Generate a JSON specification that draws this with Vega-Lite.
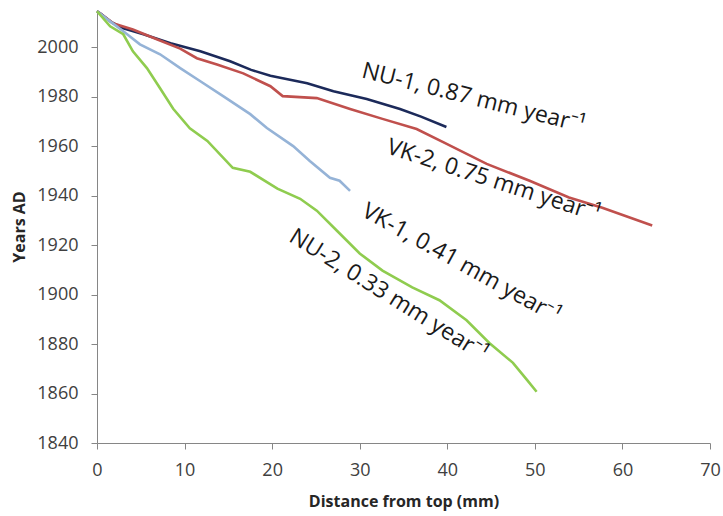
{
  "$schema": "https://vega.github.io/schema/vega-lite/v6.json",
  "autosize": "none",
  "width": 613,
  "height": 433,
  "padding": {"left": 97, "top": 10, "right": 13, "bottom": 73},
  "background": "white",
  "config": {
    "view": {"stroke": null},
    "font": "Open Sans",
    "axis": {"grid": false, "domainColor": "#868686", "tickColor": "#868686", "labelColor": "#404040", "titleColor": "#262626", "labelFont": "Open Sans", "titleFont": "Open Sans"},
    "text": {"fontSize": 23, "font": "Open Sans", "color": "#1a1a1a", "align": "center", "baseline": "middle"}
  },
  "datasets": {
    "lines": [
      {"series": "NU-1", "d": 0, "year": 2014.5},
      {"series": "NU-1", "d": 0.4, "year": 2013.6},
      {"series": "NU-1", "d": 1.6, "year": 2010.2},
      {"series": "NU-1", "d": 3.0, "year": 2007.6},
      {"series": "NU-1", "d": 5.3, "year": 2005.2},
      {"series": "NU-1", "d": 8.4, "year": 2001.6},
      {"series": "NU-1", "d": 11.8, "year": 1998.3},
      {"series": "NU-1", "d": 15.2, "year": 1994.3},
      {"series": "NU-1", "d": 17.6, "year": 1990.8},
      {"series": "NU-1", "d": 19.8, "year": 1988.4},
      {"series": "NU-1", "d": 21.2, "year": 1987.4},
      {"series": "NU-1", "d": 24.0, "year": 1985.4},
      {"series": "NU-1", "d": 27.0, "year": 1982.2},
      {"series": "NU-1", "d": 30.8, "year": 1979.0},
      {"series": "NU-1", "d": 34.6, "year": 1975.0},
      {"series": "NU-1", "d": 37.0, "year": 1971.9},
      {"series": "NU-1", "d": 39.9, "year": 1967.7},
      {"series": "VK-2", "d": 0, "year": 2014.5},
      {"series": "VK-2", "d": 1.9, "year": 2009.5},
      {"series": "VK-2", "d": 4.1, "year": 2007.1},
      {"series": "VK-2", "d": 6.9, "year": 2003.1},
      {"series": "VK-2", "d": 9.5, "year": 1999.4},
      {"series": "VK-2", "d": 11.4, "year": 1995.5},
      {"series": "VK-2", "d": 13.7, "year": 1993.0},
      {"series": "VK-2", "d": 16.7, "year": 1989.4},
      {"series": "VK-2", "d": 19.8, "year": 1984.2},
      {"series": "VK-2", "d": 21.2, "year": 1980.2},
      {"series": "VK-2", "d": 25.1, "year": 1979.4},
      {"series": "VK-2", "d": 28.9, "year": 1975.0},
      {"series": "VK-2", "d": 32.6, "year": 1971.0},
      {"series": "VK-2", "d": 36.5, "year": 1966.9},
      {"series": "VK-2", "d": 39.7, "year": 1961.3},
      {"series": "VK-2", "d": 44.5, "year": 1952.8},
      {"series": "VK-2", "d": 49.4, "year": 1946.0},
      {"series": "VK-2", "d": 53.9, "year": 1939.2},
      {"series": "VK-2", "d": 57.7, "year": 1935.1},
      {"series": "VK-2", "d": 63.4, "year": 1927.9},
      {"series": "VK-1", "d": 0, "year": 2014.5},
      {"series": "VK-1", "d": 1.5, "year": 2010.4},
      {"series": "VK-1", "d": 3.0, "year": 2006.4},
      {"series": "VK-1", "d": 4.9, "year": 2001.1},
      {"series": "VK-1", "d": 7.2, "year": 1997.1},
      {"series": "VK-1", "d": 9.5, "year": 1991.5},
      {"series": "VK-1", "d": 11.8, "year": 1986.2},
      {"series": "VK-1", "d": 14.4, "year": 1980.2},
      {"series": "VK-1", "d": 17.5, "year": 1972.9},
      {"series": "VK-1", "d": 19.4, "year": 1967.3},
      {"series": "VK-1", "d": 22.4, "year": 1960.0},
      {"series": "VK-1", "d": 24.3, "year": 1954.0},
      {"series": "VK-1", "d": 26.6, "year": 1947.2},
      {"series": "VK-1", "d": 27.7, "year": 1946.0},
      {"series": "VK-1", "d": 28.9, "year": 1941.9},
      {"series": "NU-2", "d": 0, "year": 2014.5},
      {"series": "NU-2", "d": 1.5, "year": 2008.4},
      {"series": "NU-2", "d": 3.0, "year": 2005.2},
      {"series": "NU-2", "d": 4.1, "year": 1998.3},
      {"series": "NU-2", "d": 5.7, "year": 1991.5},
      {"series": "NU-2", "d": 7.2, "year": 1983.4},
      {"series": "NU-2", "d": 8.7, "year": 1975.1},
      {"series": "NU-2", "d": 10.6, "year": 1967.2},
      {"series": "NU-2", "d": 12.6, "year": 1962.1},
      {"series": "NU-2", "d": 15.5, "year": 1951.2},
      {"series": "NU-2", "d": 17.5, "year": 1949.6},
      {"series": "NU-2", "d": 20.6, "year": 1942.8},
      {"series": "NU-2", "d": 23.2, "year": 1938.7},
      {"series": "NU-2", "d": 25.1, "year": 1933.9},
      {"series": "NU-2", "d": 27.4, "year": 1925.8},
      {"series": "NU-2", "d": 30.0, "year": 1916.6},
      {"series": "NU-2", "d": 32.6, "year": 1909.7},
      {"series": "NU-2", "d": 36.0, "year": 1902.9},
      {"series": "NU-2", "d": 39.1, "year": 1897.7},
      {"series": "NU-2", "d": 42.2, "year": 1889.6},
      {"series": "NU-2", "d": 44.8, "year": 1880.4},
      {"series": "NU-2", "d": 47.5, "year": 1872.4},
      {"series": "NU-2", "d": 49.1, "year": 1865.5},
      {"series": "NU-2", "d": 50.2, "year": 1860.7}
    ],
    "labels": [
      {"series": "NU-1", "label": "NU-1, 0.87 mm year⁻¹", "d": 43.0, "year": 1979.4},
      {"series": "VK-2", "label": "VK-2, 0.75 mm year⁻¹", "d": 45.3, "year": 1946.0},
      {"series": "VK-1", "label": "VK-1, 0.41 mm year⁻¹", "d": 41.6, "year": 1912.6},
      {"series": "NU-2", "label": "NU-2, 0.33 mm year⁻¹", "d": 33.3, "year": 1899.7}
    ]
  },
  "layer": [
    {
      "data": {"name": "lines"},
      "mark": {"type": "line", "strokeWidth": 2.6, "clip": false},
      "encoding": {
        "x": {
          "field": "d", "type": "quantitative",
          "scale": {"domain": [0, 70], "nice": false, "zero": false},
          "axis": {"values": [0, 10, 20, 30, 40, 50, 60, 70], "title": "Distance from  top (mm)", "labelFontSize": 18, "titleFontSize": 16, "titleFontWeight": "bold", "tickSize": 6, "labelPadding": 12, "titlePadding": 14, "labelFlush": false}
        },
        "y": {
          "field": "year", "type": "quantitative",
          "scale": {"domain": [1840, 2015], "nice": false, "zero": false},
          "axis": {"values": [1840, 1860, 1880, 1900, 1920, 1940, 1960, 1980, 2000], "format": "d", "title": "Years AD", "labelFontSize": 18, "titleFontSize": 16, "titleFontWeight": "bold", "tickSize": 6, "labelPadding": 13, "titlePadding": 9}
        },
        "color": {
          "field": "series", "type": "nominal",
          "scale": {"domain": ["NU-1", "VK-2", "VK-1", "NU-2"], "range": ["#1c2a5a", "#c0504d", "#95b3d7", "#8fcc4f"]},
          "legend": null
        },
        "detail": {"field": "series"}
      }
    },
    {
      "data": {"name": "labels"},
      "transform": [{"filter": "datum.series === 'NU-1'"}],
      "mark": {"type": "text", "angle": 14},
      "encoding": {"x": {"field": "d", "type": "quantitative"}, "y": {"field": "year", "type": "quantitative"}, "text": {"field": "label"}}
    },
    {
      "data": {"name": "labels"},
      "transform": [{"filter": "datum.series === 'VK-2'"}],
      "mark": {"type": "text", "angle": 18},
      "encoding": {"x": {"field": "d", "type": "quantitative"}, "y": {"field": "year", "type": "quantitative"}, "text": {"field": "label"}}
    },
    {
      "data": {"name": "labels"},
      "transform": [{"filter": "datum.series === 'VK-1'"}],
      "mark": {"type": "text", "angle": 29},
      "encoding": {"x": {"field": "d", "type": "quantitative"}, "y": {"field": "year", "type": "quantitative"}, "text": {"field": "label"}}
    },
    {
      "data": {"name": "labels"},
      "transform": [{"filter": "datum.series === 'NU-2'"}],
      "mark": {"type": "text", "angle": 32},
      "encoding": {"x": {"field": "d", "type": "quantitative"}, "y": {"field": "year", "type": "quantitative"}, "text": {"field": "label"}}
    }
  ]
}
